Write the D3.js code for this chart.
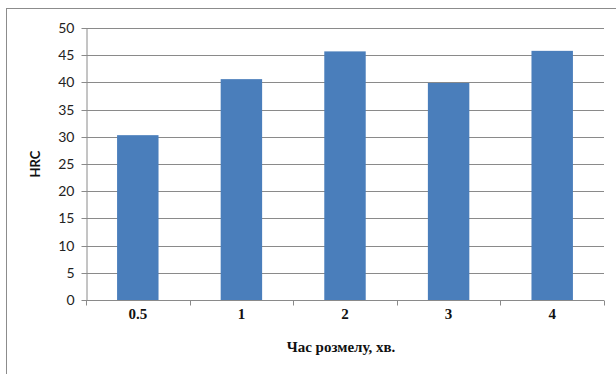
<!DOCTYPE html>
<html>
<head>
<meta charset="utf-8">
<script src="https://cdn.jsdelivr.net/npm/d3@7"></script>
<style>
  html, body { margin: 0; padding: 0; background: #fff; }
  svg { display: block; }
</style>
</head>
<body>
<svg id="chart" width="616" height="374"></svg>
<script>
// Milling time categories (minutes) and measured hardness
const categories = ["0.5", "1", "2", "3", "4"];
const hrcValues = [30.3, 40.6, 45.7, 39.9, 45.8];
const yTicks = [0, 5, 10, 15, 20, 25, 30, 35, 40, 45, 50];
const xTitle = "Час розмелу, хв.";
const yTitle = "HRC";

const svg = d3.select("#chart");
const plot = { left: 86, right: 604, top: 28, bottom: 300 };

// outer chart frame
svg.append("rect")
  .attr("x", 6.5).attr("y", 8.5)
  .attr("width", 640).attr("height", 400)
  .attr("fill", "#fff")
  .attr("stroke", "#8c8c8c").attr("stroke-width", 1);

const x = d3.scaleBand()
  .domain(categories)
  .range([plot.left, plot.right])
  .paddingInner(0.6)
  .paddingOuter(0.3);

const y = d3.scaleLinear()
  .domain([0, 50])
  .range([plot.bottom, plot.top]);

// horizontal gridlines
svg.append("g")
  .selectAll("line")
  .data(yTicks.filter(d => d > 0))
  .join("line")
  .attr("x1", plot.left).attr("x2", plot.right)
  .attr("y1", d => Math.round(y(d)) + 0.5)
  .attr("y2", d => Math.round(y(d)) + 0.5)
  .attr("stroke", "#8a8a8a").attr("stroke-width", 1);

// bars
svg.append("g")
  .selectAll("rect")
  .data(categories.map((c, i) => ({ c, v: hrcValues[i] })))
  .join("rect")
  .attr("x", d => x(d.c))
  .attr("y", d => y(d.v))
  .attr("width", x.bandwidth())
  .attr("height", d => y(0) - y(d.v))
  .attr("fill", "#4a7ebb");

// y axis
const yAxis = svg.append("g")
  .attr("transform", `translate(${plot.left + 0.5},0)`)
  .call(d3.axisLeft(y).tickValues(yTicks).tickSize(5).tickPadding(7).tickSizeOuter(0));
yAxis.select(".domain").attr("stroke", "#8a8a8a");
yAxis.selectAll(".tick line").attr("stroke", "#8a8a8a");
yAxis.selectAll(".tick").attr("transform", d => `translate(0,${Math.round(y(d)) + 0.5})`);
yAxis.selectAll("text")
  .attr("font-family", "Lato, 'Open Sans', sans-serif")
  .attr("font-size", 14)
  .attr("fill", "#222");

// x axis, tick marks sit on the boundaries between categories
const xAxisG = svg.append("g")
  .attr("transform", `translate(0,${plot.bottom + 0.5})`);
xAxisG.append("line")
  .attr("x1", plot.left).attr("x2", plot.right)
  .attr("stroke", "#8a8a8a");
const boundaries = categories.map(c => x(c) - x.step() * x.paddingInner() / 2);
boundaries.push(plot.right);
xAxisG.selectAll("line.tk")
  .data(boundaries)
  .join("line")
  .attr("class", "tk")
  .attr("x1", d => Math.round(d) + 0.5).attr("x2", d => Math.round(d) + 0.5)
  .attr("y1", 0).attr("y2", 5)
  .attr("stroke", "#8a8a8a");
xAxisG.selectAll("text")
  .data(categories)
  .join("text")
  .attr("x", d => x(d) + x.bandwidth() / 2)
  .attr("y", 18)
  .attr("text-anchor", "middle")
  .attr("font-family", "'Liberation Serif', 'Times New Roman', serif")
  .attr("font-weight", "bold")
  .attr("font-size", 15)
  .attr("fill", "#111")
  .text(d => d);

// axis titles
svg.append("text")
  .attr("x", (plot.left + plot.right) / 2 - 4)
  .attr("y", 352)
  .attr("text-anchor", "middle")
  .attr("font-family", "'Liberation Serif', 'Times New Roman', serif")
  .attr("font-weight", "bold")
  .attr("font-size", 15)
  .attr("fill", "#111")
  .text(xTitle);

svg.append("text")
  .attr("transform", `translate(40,${(plot.top + plot.bottom) / 2}) rotate(-90)`)
  .attr("text-anchor", "middle")
  .attr("font-family", "Lato, 'Open Sans', sans-serif")
  .attr("font-weight", "bold")
  .attr("font-size", 13)
  .attr("fill", "#111")
  .text(yTitle);
</script>
</body>
</html>
